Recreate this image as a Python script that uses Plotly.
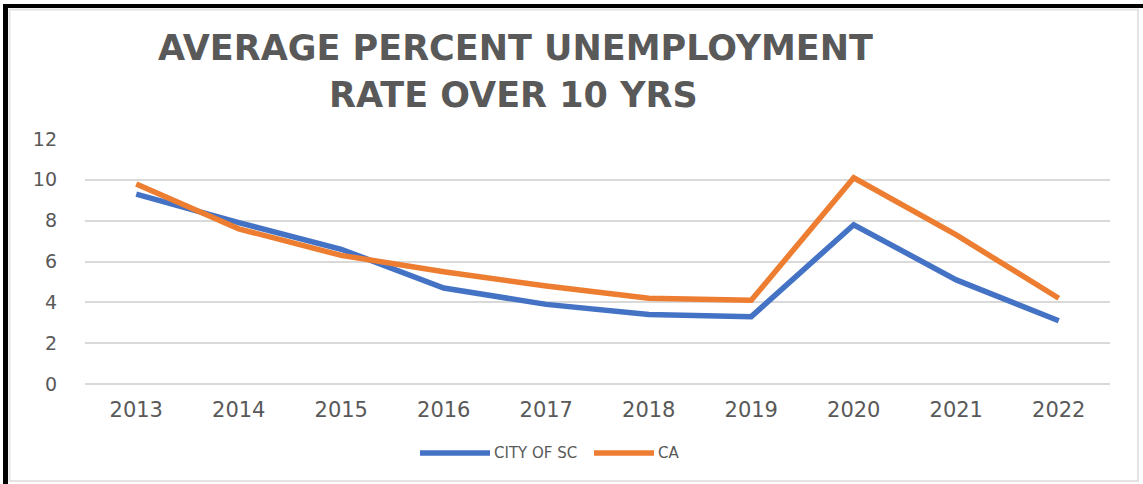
import plotly.graph_objects as go

# Annual average unemployment rate (%)
years = ["2013", "2014", "2015", "2016", "2017", "2018", "2019", "2020", "2021", "2022"]
city_of_sc = [9.3, 7.9, 6.6, 4.7, 3.9, 3.4, 3.3, 7.8, 5.1, 3.1]
california = [9.8, 7.6, 6.3, 5.5, 4.8, 4.2, 4.1, 10.1, 7.3, 4.2]
y_ticks = [0, 2, 4, 6, 8, 10, 12]
series_names = ["CITY OF SC", "CA"]
series_colors = ["#4472C4", "#ED7D31"]

W, H = 1143, 484
ML, MR, MT, MB = 85, 33, 139, 100
PW, PH = W - ML - MR, H - MT - MB

def px_x(px):
    return (px - ML) / PW

def px_y(py):
    return (H - MB - py) / PH

GREY = "#595959"
GRID = "#d9d9d9"
FONT = "DejaVu Sans"

fig = go.Figure()
for name, vals, color in zip(series_names, [city_of_sc, california], series_colors):
    fig.add_trace(go.Scatter(x=years, y=vals, mode="lines", name=name,
                             line=dict(color=color, width=5.5), showlegend=False))

shapes = [
    # outer black frame (top and left)
    dict(type="rect", xref="paper", yref="paper", x0=px_x(3), x1=px_x(8), y0=px_y(H + 5), y1=px_y(4),
         fillcolor="black", line_width=0, layer="above"),
    dict(type="rect", xref="paper", yref="paper", x0=px_x(3), x1=px_x(W + 5), y0=px_y(8), y1=px_y(4),
         fillcolor="black", line_width=0, layer="above"),
    # light inner chart border
    dict(type="rect", xref="paper", yref="paper", x0=px_x(9.5), x1=px_x(1138), y0=px_y(481), y1=px_y(9.5),
         line=dict(color="#e3e3e3", width=2), fillcolor="rgba(0,0,0,0)", layer="below"),
]

annotations = [
    dict(text="AVERAGE PERCENT UNEMPLOYMENT", xref="paper", yref="paper", x=px_x(515), y=px_y(48),
         showarrow=False, xanchor="center", yanchor="middle",
         font=dict(family=FONT, size=35, color=GREY, weight="bold")),
    dict(text="RATE OVER 10 YRS", xref="paper", yref="paper", x=px_x(513), y=px_y(95),
         showarrow=False, xanchor="center", yanchor="middle",
         font=dict(family=FONT, size=35, color=GREY, weight="bold")),
]

# legend: long line swatches followed by series names
legend_items = [(420, 490, 492), (594, 654, 656)]
for (x0, x1, tx), name, color in zip(legend_items, series_names, series_colors):
    shapes.append(dict(type="line", xref="paper", yref="paper", x0=px_x(x0), x1=px_x(x1),
                       y0=px_y(453), y1=px_y(453), line=dict(color=color, width=5.5)))
    annotations.append(dict(text=name, xref="paper", yref="paper", x=px_x(tx), y=px_y(453),
                            showarrow=False, xanchor="left", yanchor="middle",
                            font=dict(family=FONT, size=15, color=GREY)))

fig.update_layout(
    width=W, height=H,
    margin=dict(l=ML, r=MR, t=MT, b=MB),
    paper_bgcolor="white", plot_bgcolor="white",
    shapes=shapes, annotations=annotations,
    showlegend=False,
    xaxis=dict(type="category", range=[-0.5, 9.5], showgrid=False, zeroline=False,
               showline=False, ticks="", tickfont=dict(family=FONT, size=21, color=GREY),
               ticklabelstandoff=11),
    yaxis=dict(range=[0, 12], tickvals=y_ticks, showgrid=True, gridcolor=GRID, gridwidth=2,
               zeroline=True, zerolinecolor=GRID, zerolinewidth=2, showline=False, ticks="",
               tickfont=dict(family=FONT, size=19, color=GREY), ticklabelstandoff=27),
)

fig.write_html("out.html")
